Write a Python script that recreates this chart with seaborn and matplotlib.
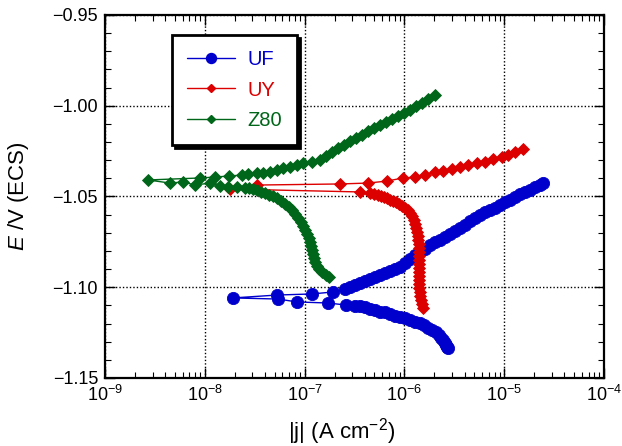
import numpy as np
import pandas as pd
import matplotlib
matplotlib.use("Agg")
import matplotlib.pyplot as plt
import seaborn as sns
from matplotlib.ticker import MultipleLocator, FuncFormatter, LogLocator, NullFormatter
from matplotlib.lines import Line2D

# ---------------- data (current density |j| in A/cm2, potential E in V vs ECS) ----------------
# UF : cathodic branch (from most negative E up to Ecorr), then anodic branch
uf_cath_j = [2.73e-6, 2.67e-6, 2.61e-6, 2.55e-6, 2.44e-6, 2.33e-6, 2.22e-6, 2.07e-6, 1.89e-6, 1.72e-6,
             1.57e-6, 1.43e-6, 1.28e-6, 1.14e-6, 1.01e-6, 9.03e-7, 8.05e-7, 7.17e-7, 6.39e-7, 5.69e-7,
             5.07e-7, 4.52e-7, 4.03e-7, 3.59e-7, 3.20e-7, 2.60e-7, 1.72e-7, 8.39e-8, 5.41e-8, 1.92e-8]
uf_cath_E = [-1.1335, -1.1329, -1.1318, -1.1305, -1.1291, -1.1277, -1.1263, -1.1249, -1.1236, -1.1222,
             -1.1208, -1.1197, -1.1189, -1.1181, -1.1172, -1.1164, -1.1158, -1.1147, -1.1139, -1.1134,
             -1.1125, -1.1120, -1.1109, -1.1103, -1.1101, -1.1098, -1.1087, -1.1081, -1.1065, -1.1059]
uf_anod_j = [5.29e-8, 1.19e-7, 1.93e-7,
             2.54e-7, 2.85e-7, 3.20e-7, 3.59e-7, 4.03e-7, 4.52e-7, 5.07e-7, 5.69e-7, 6.39e-7, 7.17e-7,
             8.05e-7, 9.03e-7, 1.01e-6, 1.14e-6, 1.28e-6, 1.43e-6, 1.61e-6, 1.80e-6, 2.03e-6, 2.27e-6,
             2.55e-6, 2.86e-6, 3.21e-6, 3.61e-6, 4.05e-6, 4.54e-6, 5.10e-6, 5.72e-6, 6.42e-6, 7.20e-6,
             8.09e-6, 9.07e-6, 1.02e-5, 1.14e-5, 1.28e-5, 1.44e-5, 1.62e-5, 1.81e-5, 2.04e-5, 2.28e-5, 2.45e-5]
uf_anod_E = [-1.1043, -1.1037, -1.1026,
             -1.1010, -1.1001, -1.0988, -1.0977, -1.0966, -1.0955, -1.0944, -1.0935, -1.0924, -1.0913,
             -1.0900, -1.0886, -1.0866, -1.0844, -1.0822, -1.0803, -1.0787, -1.0770, -1.0753, -1.0737,
             -1.0723, -1.0707, -1.0690, -1.0674, -1.0657, -1.0635, -1.0618, -1.0602, -1.0588, -1.0574,
             -1.0563, -1.0547, -1.0530, -1.0517, -1.0503, -1.0489, -1.0478, -1.0464, -1.0448, -1.0434, -1.0426]

# UY
uy_cath_j = [1.54e-6, 1.50e-6, 1.47e-6, 1.43e-6, 1.43e-6,
             1.40e-6, 1.40e-6, 1.40e-6, 1.40e-6, 1.40e-6, 1.40e-6, 1.40e-6, 1.40e-6, 1.40e-6, 1.40e-6,
             1.40e-6, 1.40e-6,
             1.37e-6, 1.37e-6, 1.34e-6, 1.31e-6, 1.28e-6, 1.25e-6, 1.19e-6, 1.14e-6, 1.09e-6, 1.01e-6,
             9.46e-7, 8.83e-7, 8.24e-7, 7.69e-7, 7.17e-7, 6.70e-7, 6.25e-7, 5.83e-7, 5.44e-7, 4.96e-7,
             4.52e-7, 3.59e-7, 1.79e-8]
uy_cath_E = [-1.1114, -1.1092, -1.1070, -1.1048, -1.1026,
             -1.1004, -1.0982, -1.0960, -1.0938, -1.0916, -1.0894, -1.0872, -1.0850, -1.0828, -1.0806,
             -1.0784, -1.0762,
             -1.0740, -1.0718, -1.0696, -1.0674, -1.0652, -1.0630, -1.0608, -1.0591, -1.0577, -1.0563,
             -1.0552, -1.0541, -1.0533, -1.0525, -1.0517, -1.0508, -1.0503, -1.0497, -1.0492, -1.0486,
             -1.0481, -1.0475, -1.0459]
uy_anod_j = [3.33e-8, 2.26e-7, 4.32e-7, 6.70e-7, 9.68e-7, 1.28e-6, 1.61e-6, 2.03e-6, 2.44e-6,
             3.00e-6, 3.61e-6, 4.34e-6, 5.34e-6, 6.42e-6, 7.72e-6, 9.51e-6, 1.09e-5, 1.28e-5, 1.54e-5]
uy_anod_E = [-1.0437, -1.0431, -1.0426, -1.0415, -1.0398, -1.0393, -1.0382, -1.0365, -1.0360,
             -1.0348, -1.0337, -1.0326, -1.0315, -1.0310, -1.0293, -1.0282, -1.0271, -1.0255, -1.0238]

# Z80
z80_cath_j = [1.76e-7, 1.64e-7, 1.49e-7, 1.39e-7, 1.33e-7, 1.27e-7, 1.24e-7, 1.21e-7, 1.19e-7, 1.16e-7,
              1.13e-7, 1.11e-7, 1.06e-7, 1.01e-7, 9.64e-8, 9.20e-8, 8.59e-8, 8.01e-8, 7.48e-8, 6.98e-8,
              6.36e-8, 5.80e-8, 5.29e-8, 4.83e-8, 4.40e-8, 4.01e-8, 3.66e-8, 3.33e-8, 3.04e-8, 2.77e-8,
              2.53e-8, 2.10e-8, 1.71e-8, 1.42e-8, 1.13e-8, 7.98e-9, 6.05e-9, 4.48e-9, 2.70e-9]
z80_cath_E = [-1.0944, -1.0933, -1.0916, -1.0900, -1.0883, -1.0861, -1.0839, -1.0817, -1.0795, -1.0773,
              -1.0751, -1.0729, -1.0707, -1.0685, -1.0663, -1.0641, -1.0618, -1.0596, -1.0574, -1.0558,
              -1.0541, -1.0525, -1.0511, -1.0500, -1.0492, -1.0481, -1.0473, -1.0464, -1.0459, -1.0456,
              -1.0453, -1.0448, -1.0448, -1.0442, -1.0426, -1.0437, -1.0420, -1.0426, -1.0409]
z80_anod_j = [8.95e-9, 1.27e-8, 1.75e-8, 2.36e-8, 2.71e-8, 3.33e-8, 3.83e-8, 4.50e-8, 5.29e-8,
              6.08e-8, 7.14e-8, 8.39e-8, 9.64e-8, 1.19e-7, 1.43e-7, 1.64e-7, 1.88e-7, 2.16e-7,
              2.48e-7, 2.85e-7, 3.27e-7, 3.76e-7, 4.32e-7, 4.96e-7, 5.69e-7, 6.54e-7, 7.51e-7,
              8.63e-7, 9.91e-7, 1.14e-6, 1.31e-6, 1.50e-6, 1.72e-6, 2.03e-6]
z80_anod_E = [-1.0398, -1.0393, -1.0387, -1.0382, -1.0376, -1.0371, -1.0371, -1.0365, -1.0354,
              -1.0343, -1.0337, -1.0326, -1.0315, -1.0310, -1.0299, -1.0277, -1.0255, -1.0233,
              -1.0216, -1.0194, -1.0178, -1.0161, -1.0139, -1.0123, -1.0106, -1.0090, -1.0073,
              -1.0056, -1.0040, -1.0023, -1.0001, -0.9985, -0.9963, -0.9941]

labels = ["UF", "UY", "Z80"]
x_ticks = [1e-9, 1e-8, 1e-7, 1e-6, 1e-5, 1e-4]
y_ticks = [-1.15, -1.10, -1.05, -1.00, -0.95]

# ---------------- style ----------------
sns.set_theme(style="ticks")
plt.rcParams["font.family"] = ["Liberation Sans", "DejaVu Sans"]
plt.rcParams["mathtext.fontset"] = "custom"
plt.rcParams["mathtext.rm"] = "Liberation Sans"
plt.rcParams["mathtext.it"] = "Liberation Sans:italic"
plt.rcParams["mathtext.bf"] = "Liberation Sans:bold"
plt.rcParams["axes.unicode_minus"] = True
plt.rcParams["text.color"] = "black"
plt.rcParams["axes.labelcolor"] = "black"

colors = ["#0000cc", "#dd0000", "#006619"]
markers = ["o", "D", "D"]
msizes = [8.8, 6.0, 5.8]
leg_msizes = [7.2, 4.2, 3.8]

fig = plt.figure(figsize=(6.22, 4.46), dpi=100)
ax = fig.add_axes([0.1688, 0.1525, 0.8023, 0.8139])
ax.set_xscale("log")

series = [(uf_cath_j + uf_anod_j, uf_cath_E + uf_anod_E),
          (uy_cath_j + uy_anod_j, uy_cath_E + uy_anod_E),
          (z80_cath_j + z80_anod_j, z80_cath_E + z80_anod_E)]
handles = []
for (j, E), lab, c, m, ms, lms in zip(series, labels, colors, markers, msizes, leg_msizes):
    df = pd.DataFrame({"j": j, "E": E})
    sns.lineplot(data=df, x="j", y="E", sort=False, estimator=None, ax=ax,
                 color=c, marker=m, markersize=ms, markeredgewidth=0.6,
                 markeredgecolor=c, linewidth=1.0, legend=False)
    handles.append(Line2D([], [], color=c, marker=m, markersize=lms,
                          markeredgecolor=c, linewidth=1.0, label=lab))

ax.set_xlim(1e-9, 1e-4)
ax.set_ylim(-1.15, -0.95)
ax.set_xticks(x_ticks)
ax.xaxis.set_minor_locator(LogLocator(base=10, subs=np.arange(2, 10)))
ax.xaxis.set_minor_formatter(NullFormatter())
ax.set_yticks(y_ticks)
ax.yaxis.set_minor_locator(MultipleLocator(0.01))
ax.yaxis.set_major_formatter(FuncFormatter(lambda v, p: f"{v:.2f}".replace("-", "\u2212")))

ax.tick_params(which="both", direction="in", top=True, right=True, colors="black",
               labelsize=13)
ax.tick_params(which="major", length=7, width=1.0, pad=5)
ax.tick_params(which="minor", length=4, width=0.8)
for s in ax.spines.values():
    s.set_linewidth(1.6)
    s.set_color("black")

ax.grid(True, which="major", color="black", linestyle=(0, (1, 1.5)), linewidth=1.0)

ax.set_xlabel("|j| (A cm$^{-2}$)", fontsize=16, color="black")
ax.set_ylabel("$E$ /V (ECS)", fontsize=16, color="black")
ax.xaxis.set_label_coords(0.475, -0.105)
ax.yaxis.set_label_coords(-0.148, 0.5)

leg = ax.legend(handles=handles, loc="upper left", bbox_to_anchor=(0.134, 0.945),
                borderaxespad=0, fontsize=14.5, labelcolor="linecolor",
                frameon=True, fancybox=False, edgecolor="black",
                shadow={"color": "black", "alpha": 1.0},
                handlelength=2.4, handletextpad=0.6, labelspacing=0.57, borderpad=0.75)
leg.get_frame().set_linewidth(2.0)
leg.get_frame().set_facecolor("white")
leg.get_frame().set_alpha(1.0)

fig.savefig("out.png", dpi=100)
